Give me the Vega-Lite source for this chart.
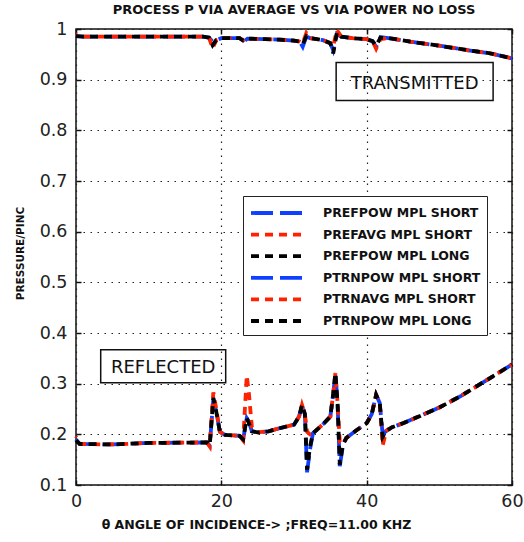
{
  "$schema": "https://vega.github.io/schema/vega-lite/v6.json",
  "width": 436,
  "height": 456,
  "autosize": {"type": "none"},
  "padding": {"left": 76, "top": 29, "right": 12, "bottom": 57},
  "background": "white",
  "title": {"text": "PROCESS P VIA AVERAGE VS VIA POWER NO LOSS", "fontSize": 13, "fontWeight": "bold", "font": "DejaVu Sans", "offset": 3, "color": "#111"},
  "data": {"values": [
    {"a": 0, "rps": 0.19, "ras": 0.196, "rpl": 0.188},
    {"a": 0.5, "rps": 0.181, "ras": 0.181, "rpl": 0.181},
    {"a": 5, "rps": 0.18, "ras": 0.18, "rpl": 0.18},
    {"a": 10, "rps": 0.183, "ras": 0.183, "rpl": 0.183},
    {"a": 18, "rps": 0.184, "ras": 0.184, "rpl": 0.184},
    {"a": 18.4, "rps": 0.178, "ras": 0.176, "rpl": 0.178},
    {"a": 18.9, "rps": 0.27, "ras": 0.283, "rpl": 0.272},
    {"a": 19.3, "rps": 0.245, "ras": 0.25, "rpl": 0.245},
    {"a": 19.8, "rps": 0.205, "ras": 0.205, "rpl": 0.205},
    {"a": 20.5, "rps": 0.199, "ras": 0.199, "rpl": 0.199},
    {"a": 22.5, "rps": 0.197, "ras": 0.197, "rpl": 0.197},
    {"a": 23, "rps": 0.19, "ras": 0.188, "rpl": 0.19},
    {"a": 23.5, "rps": 0.232, "ras": 0.316, "rpl": 0.232},
    {"a": 23.8, "rps": 0.225, "ras": 0.28, "rpl": 0.222},
    {"a": 24.2, "rps": 0.206, "ras": 0.215, "rpl": 0.206},
    {"a": 25, "rps": 0.204, "ras": 0.204, "rpl": 0.204},
    {"a": 26.5, "rps": 0.206, "ras": 0.206, "rpl": 0.206},
    {"a": 28, "rps": 0.212, "ras": 0.212, "rpl": 0.212},
    {"a": 30, "rps": 0.219, "ras": 0.219, "rpl": 0.219},
    {"a": 30.7, "rps": 0.235, "ras": 0.235, "rpl": 0.235},
    {"a": 31.1, "rps": 0.258, "ras": 0.258, "rpl": 0.258},
    {"a": 31.5, "rps": 0.24, "ras": 0.24, "rpl": 0.24},
    {"a": 31.8, "rps": 0.125, "ras": 0.205, "rpl": 0.13},
    {"a": 32.2, "rps": 0.17, "ras": 0.2, "rpl": 0.175},
    {"a": 32.6, "rps": 0.202, "ras": 0.202, "rpl": 0.202},
    {"a": 34, "rps": 0.22, "ras": 0.22, "rpl": 0.22},
    {"a": 35, "rps": 0.235, "ras": 0.235, "rpl": 0.235},
    {"a": 35.4, "rps": 0.28, "ras": 0.28, "rpl": 0.28},
    {"a": 35.7, "rps": 0.321, "ras": 0.321, "rpl": 0.321},
    {"a": 36, "rps": 0.26, "ras": 0.26, "rpl": 0.26},
    {"a": 36.3, "rps": 0.137, "ras": 0.185, "rpl": 0.14},
    {"a": 36.7, "rps": 0.175, "ras": 0.18, "rpl": 0.178},
    {"a": 37.2, "rps": 0.193, "ras": 0.193, "rpl": 0.193},
    {"a": 38.5, "rps": 0.207, "ras": 0.207, "rpl": 0.207},
    {"a": 40, "rps": 0.222, "ras": 0.222, "rpl": 0.222},
    {"a": 40.7, "rps": 0.24, "ras": 0.24, "rpl": 0.24},
    {"a": 41.3, "rps": 0.278, "ras": 0.278, "rpl": 0.278},
    {"a": 41.8, "rps": 0.262, "ras": 0.262, "rpl": 0.262},
    {"a": 42.2, "rps": 0.2, "ras": 0.178, "rpl": 0.195},
    {"a": 42.7, "rps": 0.207, "ras": 0.207, "rpl": 0.207},
    {"a": 43.5, "rps": 0.214, "ras": 0.214, "rpl": 0.214},
    {"a": 45, "rps": 0.222, "ras": 0.222, "rpl": 0.222},
    {"a": 47, "rps": 0.234, "ras": 0.234, "rpl": 0.234},
    {"a": 50, "rps": 0.253, "ras": 0.253, "rpl": 0.253},
    {"a": 53, "rps": 0.276, "ras": 0.276, "rpl": 0.276},
    {"a": 55.5, "rps": 0.298, "ras": 0.298, "rpl": 0.298},
    {"a": 58, "rps": 0.32, "ras": 0.32, "rpl": 0.32},
    {"a": 60, "rps": 0.338, "ras": 0.338, "rpl": 0.338},
    {"a": 0, "tps": 0.986, "tas": 0.99, "tpl": 0.986},
    {"a": 1, "tps": 0.985, "tas": 0.985, "tpl": 0.985},
    {"a": 17.5, "tps": 0.985, "tas": 0.985, "tpl": 0.985},
    {"a": 18.3, "tps": 0.983, "tas": 0.983, "tpl": 0.983},
    {"a": 18.8, "tps": 0.975, "tas": 0.962, "tpl": 0.968},
    {"a": 19.3, "tps": 0.978, "tas": 0.978, "tpl": 0.978},
    {"a": 20, "tps": 0.982, "tas": 0.982, "tpl": 0.982},
    {"a": 22.5, "tps": 0.982, "tas": 0.982, "tpl": 0.982},
    {"a": 23, "tps": 0.974, "tas": 0.978, "tpl": 0.977},
    {"a": 23.6, "tps": 0.981, "tas": 0.981, "tpl": 0.981},
    {"a": 26, "tps": 0.98, "tas": 0.98, "tpl": 0.98},
    {"a": 28, "tps": 0.979, "tas": 0.979, "tpl": 0.979},
    {"a": 30, "tps": 0.977, "tas": 0.977, "tpl": 0.977},
    {"a": 30.8, "tps": 0.975, "tas": 0.975, "tpl": 0.975},
    {"a": 31.2, "tps": 0.965, "tas": 0.972, "tpl": 0.97},
    {"a": 31.7, "tps": 0.985, "tas": 0.992, "tpl": 0.986},
    {"a": 32.2, "tps": 0.982, "tas": 0.982, "tpl": 0.982},
    {"a": 34, "tps": 0.978, "tas": 0.978, "tpl": 0.978},
    {"a": 35, "tps": 0.972, "tas": 0.972, "tpl": 0.972},
    {"a": 35.4, "tps": 0.958, "tas": 0.966, "tpl": 0.952},
    {"a": 35.9, "tps": 0.99, "tas": 0.998, "tpl": 0.993},
    {"a": 36.5, "tps": 0.985, "tas": 0.985, "tpl": 0.985},
    {"a": 38, "tps": 0.982, "tas": 0.982, "tpl": 0.982},
    {"a": 40, "tps": 0.98, "tas": 0.98, "tpl": 0.98},
    {"a": 40.8, "tps": 0.976, "tas": 0.976, "tpl": 0.976},
    {"a": 41.3, "tps": 0.965, "tas": 0.961, "tpl": 0.967},
    {"a": 41.9, "tps": 0.984, "tas": 0.98, "tpl": 0.983},
    {"a": 43, "tps": 0.982, "tas": 0.982, "tpl": 0.982},
    {"a": 46, "tps": 0.975, "tas": 0.975, "tpl": 0.975},
    {"a": 50, "tps": 0.967, "tas": 0.967, "tpl": 0.967},
    {"a": 54, "tps": 0.958, "tas": 0.958, "tpl": 0.958},
    {"a": 57, "tps": 0.952, "tas": 0.952, "tpl": 0.952},
    {"a": 60, "tps": 0.942, "tas": 0.942, "tpl": 0.942}
  ]},
  "transform": [
    {"fold": ["rps", "ras", "rpl", "tps", "tas", "tpl"], "as": ["s", "v"]},
    {"filter": "isValid(datum.v)"}
  ],
  "resolve": {"axis": {"x": "independent", "y": "independent"}},
  "layer": [
    {
      "transform": [{"filter": "datum.s == 'rps' || datum.s == 'tps'"}],
      "mark": {"type": "line", "strokeWidth": 3.8, "strokeCap": "butt"},
      "encoding": {
        "x": {"field": "a", "type": "quantitative", "scale": {"domain": [0, 60], "nice": false},
          "axis": {"title": "θ ANGLE OF INCIDENCE-> ;FREQ=11.00 KHZ", "values": [0, 20, 40, 60], "format": "d",
            "grid": true, "gridDash": [1.5, 5.5], "gridColor": "#222", "gridWidth": 1.2,
            "domain": false, "tickSize": -5, "tickColor": "#111", "tickWidth": 1.5,
            "labelFont": "DejaVu Sans", "labelFontSize": 17.5, "labelColor": "#222", "labelPadding": 12, "labelFlush": false,
            "titleFont": "DejaVu Sans", "titleFontSize": 12.5, "titleFontWeight": "bold", "titleColor": "#111", "titleX": 180, "titleY": 33}},
        "y": {"field": "v", "type": "quantitative", "scale": {"domain": [0.1, 1], "nice": false, "zero": false},
          "axis": {"title": "PRESSURE/PINC", "values": [0.1, 0.2, 0.3, 0.4, 0.5, 0.6, 0.7, 0.8, 0.9, 1], "format": "~g",
            "grid": true, "gridDash": [1.5, 5.5], "gridColor": "#222", "gridWidth": 1.2,
            "domain": false, "tickSize": -5, "tickColor": "#111", "tickWidth": 1.5,
            "labelFont": "DejaVu Sans", "labelFontSize": 17.5, "labelColor": "#222", "labelPadding": 14, "labelFlush": false,
            "titleFont": "DejaVu Sans", "titleFontSize": 10.5, "titleFontWeight": "bold", "titleColor": "#111", "titleX": -51, "titleY": 224, "titleAngle": -90}},
        "color": {"field": "s", "type": "nominal",
          "scale": {"domain": ["rps", "ras", "rpl", "tps", "tas", "tpl"], "range": ["#1040ff", "#ff2200", "#000000", "#1040ff", "#ff2200", "#000000"]},
          "legend": {"orient": "none", "legendX": 167, "legendY": 167, "title": null,
            "labelExpr": "{'rps': 'PREFPOW MPL SHORT', 'ras': 'PREFAVG MPL SHORT', 'rpl': 'PREFPOW MPL LONG', 'tps': 'PTRNPOW MPL SHORT', 'tas': 'PTRNAVG MPL SHORT', 'tpl': 'PTRNPOW MPL LONG'}[datum.label]",
            "symbolType": "M-3,0H3", "symbolSize": 324, "symbolStrokeWidth": 3.8, "symbolOffset": 18, "labelOffset": 34,
            "labelFont": "DejaVu Sans", "labelFontSize": 12.5, "labelFontWeight": "bold", "labelColor": "#111",
            "padding": 6, "rowPadding": 2.6, "strokeColor": "#222", "fillColor": "white", "labelLimit": 300}},
        "strokeDash": {"field": "s", "type": "nominal",
          "scale": {"domain": ["rps", "ras", "rpl", "tps", "tas", "tpl"], "range": [[22, 7], [8, 6], [8, 6], [22, 7], [8, 6], [8, 6]]}}
      }
    },
    {
      "transform": [{"filter": "datum.s == 'ras' || datum.s == 'tas'"}],
      "mark": {"type": "line", "strokeWidth": 3.8, "strokeCap": "butt", "strokeDashOffset": 7},
      "encoding": {
        "x": {"field": "a", "type": "quantitative", "axis": null},
        "y": {"field": "v", "type": "quantitative", "axis": null},
        "color": {"field": "s", "type": "nominal"},
        "strokeDash": {"field": "s", "type": "nominal"}
      }
    },
    {
      "transform": [{"filter": "datum.s == 'rpl' || datum.s == 'tpl'"}],
      "mark": {"type": "line", "strokeWidth": 3.8, "strokeCap": "butt"},
      "encoding": {
        "x": {"field": "a", "type": "quantitative", "axis": null},
        "y": {"field": "v", "type": "quantitative", "axis": null},
        "color": {"field": "s", "type": "nominal"},
        "strokeDash": {"field": "s", "type": "nominal"}
      }
    },
    {
      "data": {"values": [
        {"x1": 35.8, "x2": 57.4, "y1": 0.859, "y2": 0.934},
        {"x1": 3.4, "x2": 20.6, "y1": 0.302, "y2": 0.367}
      ]},
      "transform": [],
      "mark": {"type": "rect", "fill": null, "fillOpacity": 0, "stroke": "#111", "strokeWidth": 1.5},
      "encoding": {
        "x": {"field": "x1", "type": "quantitative",
          "axis": {"orient": "top", "values": [0, 20, 40, 60], "labels": false, "title": null, "grid": false, "domain": false, "tickSize": -5, "tickColor": "#111", "tickWidth": 1.5}},
        "x2": {"field": "x2"},
        "y": {"field": "y1", "type": "quantitative",
          "axis": {"orient": "right", "values": [0.1, 0.2, 0.3, 0.4, 0.5, 0.6, 0.7, 0.8, 0.9, 1], "labels": false, "title": null, "grid": false, "domain": false, "tickSize": -5, "tickColor": "#111", "tickWidth": 1.5}},
        "y2": {"field": "y2"}
      }
    },
    {
      "data": {"values": [
        {"label": "TRANSMITTED", "tx": 46.6, "ty": 0.892},
        {"label": "REFLECTED", "tx": 12.0, "ty": 0.331}
      ]},
      "transform": [],
      "mark": {"type": "text", "font": "DejaVu Sans", "fontSize": 18, "color": "#111", "align": "center", "baseline": "middle"},
      "encoding": {
        "x": {"field": "tx", "type": "quantitative", "axis": null},
        "y": {"field": "ty", "type": "quantitative", "axis": null},
        "text": {"field": "label"}
      }
    }
  ],
  "config": {
    "view": {"stroke": "#111", "strokeWidth": 1.5}
  }
}
